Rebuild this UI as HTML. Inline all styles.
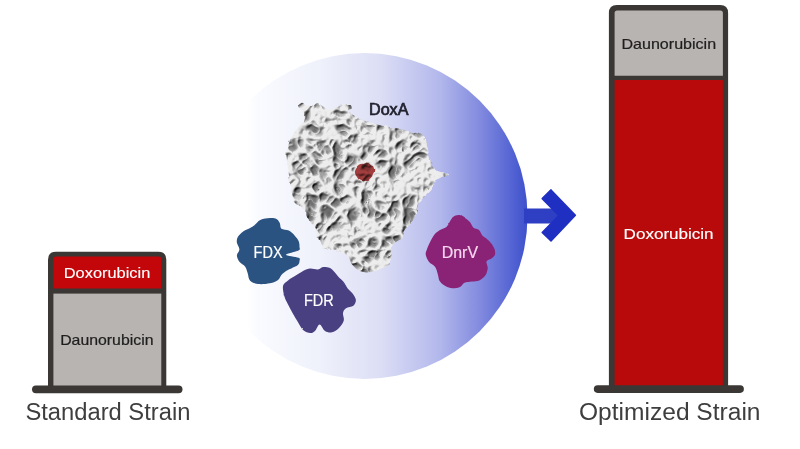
<!DOCTYPE html>
<html><head><meta charset="utf-8">
<style>
html,body{margin:0;padding:0;background:#fff;width:800px;height:449px;overflow:hidden}
svg{display:block}
text{font-family:"Liberation Sans",sans-serif}
</style></head>
<body>
<svg width="800" height="449" viewBox="0 0 800 449">
<defs>
  <linearGradient id="cg" x1="202" y1="0" x2="527" y2="0" gradientUnits="userSpaceOnUse">
    <stop offset="0" stop-color="#ffffff"/>
    <stop offset="0.14" stop-color="#ffffff"/>
    <stop offset="0.17" stop-color="#fafbff"/>
    <stop offset="0.36" stop-color="#eff1fb"/>
    <stop offset="0.55" stop-color="#dcdef5"/>
    <stop offset="0.73" stop-color="#b3b8ec"/>
    <stop offset="0.86" stop-color="#8089de"/>
    <stop offset="0.95" stop-color="#5565d4"/>
    <stop offset="1" stop-color="#3f51cc"/>
  </linearGradient>
  <filter id="prot" x="0" y="0" width="100%" height="100%" color-interpolation-filters="sRGB">
    <feTurbulence type="turbulence" baseFrequency="0.072" numOctaves="2" seed="11" result="t"/>
    <feColorMatrix in="t" type="matrix" values="0 0 0 0 0  0 0 0 0 0  0 0 0 0 0  1 0 0 0 0" result="ta"/>
    <feComponentTransfer in="ta" result="h">
      <feFuncA type="table" tableValues="1 0.96 0.78 0.48 0.18 0.04 0 0"/>
    </feComponentTransfer>
    <feGaussianBlur in="h" stdDeviation="0.7" result="hb"/>
    <feDiffuseLighting in="hb" surfaceScale="3" diffuseConstant="1.15" lighting-color="#fff" result="l">
      <feDistantLight azimuth="225" elevation="60"/>
    </feDiffuseLighting>
    <feComponentTransfer in="hb" result="ao">
      <feFuncR type="linear" slope="0" intercept="0"/>
      <feFuncG type="linear" slope="0" intercept="0"/>
      <feFuncB type="linear" slope="0" intercept="0"/>
      <feFuncA type="table" tableValues="0 0.6 1 1"/>
    </feComponentTransfer>
    <feFlood flood-color="#666666" result="gray"/>
    <feColorMatrix in="l" type="matrix" values="0.93 0 0 0 0  0 0.93 0 0 0  0 0 0.93 0 0  0 0 0 1 0" result="l2"/>
    <feComposite in="l2" in2="ao" operator="in" result="lit"/>
    <feMerge result="m"><feMergeNode in="gray"/><feMergeNode in="lit"/></feMerge>
    <feGaussianBlur in="m" stdDeviation="0.35" result="mb"/>
    <feComposite in="mb" in2="SourceGraphic" operator="in"/>
  </filter>
  <filter id="bump" x="-10%" y="-10%" width="120%" height="120%">
    <feTurbulence type="fractalNoise" baseFrequency="0.12" numOctaves="1" seed="2" result="n"/>
    <feDisplacementMap in="SourceGraphic" in2="n" scale="4" xChannelSelector="R" yChannelSelector="G"/>
  </filter>
  <filter id="lobe" x="-10%" y="-10%" width="120%" height="120%">
    <feTurbulence type="fractalNoise" baseFrequency="0.15" numOctaves="1" seed="9" result="n"/>
    <feDisplacementMap in="SourceGraphic" in2="n" scale="2" xChannelSelector="R" yChannelSelector="G" result="d"/>
    <feGaussianBlur in="d" stdDeviation="0.4"/>
  </filter>
</defs>

<!-- central circle -->
<circle cx="364.5" cy="216" r="163" fill="url(#cg)"/>

<!-- protein DoxA -->
<mask id="pm"><path d="M298.4,104.3 C298.8,103.8 301.1,101.4 302.4,101.7 C303.7,102.0 310.2,106.9 311.7,107.0 C313.2,107.1 315.9,103.1 317.0,103.0 C318.1,102.9 321.2,105.0 322.4,105.7 C323.6,106.4 327.1,109.7 329.0,109.7 C330.9,109.7 338.9,106.2 341.0,105.7 C343.1,105.2 349.3,104.7 350.4,105.0 C351.5,105.3 352.1,107.8 351.8,108.4 C351.5,109.0 347.5,110.3 347.8,111.0 C348.1,111.7 353.2,114.2 354.4,115.0 C355.6,115.8 358.4,118.3 359.8,119.0 C361.2,119.7 366.3,121.0 368.5,121.7 C370.7,122.4 378.4,124.8 382.0,125.6 C385.6,126.4 400.2,128.9 404.5,130.0 C408.8,131.1 422.2,134.2 424.6,136.7 C427.1,139.1 428.1,151.4 429.0,154.5 C429.9,157.6 431.5,166.0 433.5,168.0 C435.5,170.0 448.8,173.3 449.0,174.6 C449.2,175.9 437.5,179.5 435.7,181.0 C433.9,182.5 432.5,188.4 431.4,190.0 C430.3,191.6 426.1,195.4 424.8,196.7 C423.5,198.0 419.0,201.6 418.1,203.4 C417.2,205.2 416.6,212.5 415.9,214.5 C415.2,216.5 412.5,221.8 411.4,223.4 C410.3,225.0 405.8,228.5 404.7,230.1 C403.6,231.7 401.6,237.4 400.3,239.0 C399.0,240.6 392.3,243.9 391.4,245.7 C390.5,247.5 391.8,254.8 391.4,256.8 C390.9,258.8 388.2,264.4 386.9,265.7 C385.6,267.0 380.0,269.5 378.0,270.2 C376.0,270.9 368.9,272.4 366.9,272.4 C364.9,272.4 359.6,271.1 358.0,270.2 C356.4,269.3 352.4,265.1 351.3,263.5 C350.2,261.9 348.4,255.9 346.8,254.6 C345.2,253.3 338.1,250.8 335.7,250.1 C333.2,249.4 324.1,249.2 322.3,247.9 C320.5,246.6 318.8,239.0 317.9,236.8 C317.0,234.6 314.5,227.6 313.4,225.6 C312.3,223.6 307.8,218.5 306.7,216.7 C305.6,214.9 303.6,209.6 302.3,207.8 C301.0,206.0 294.5,200.7 293.4,198.9 C292.3,197.1 291.5,192.8 291.0,190.0 C290.5,187.2 288.9,174.2 288.4,170.7 C287.9,167.2 286.4,157.2 286.3,155.0 C286.2,152.8 287.3,150.0 287.7,148.4 C288.1,146.8 289.6,140.6 290.3,139.0 C291.0,137.4 293.4,133.7 294.3,132.4 C295.2,131.1 298.8,126.8 299.7,125.7 C300.6,124.6 303.2,123.0 303.7,121.7 C304.2,120.4 305.5,113.9 305.0,112.4 C304.5,110.9 299.1,107.8 298.4,107.0 C297.7,106.2 298.0,104.8 298.4,104.3 Z" fill="#fff" filter="url(#bump)"/></mask>
<rect x="270" y="90" width="190" height="200" fill="#fff" filter="url(#prot)" mask="url(#pm)"/>
<path d="M356,168 Q359,163 364,164 Q368,161 372,165 Q376,169 373,174 Q371,180 365,181 Q359,182 357,177 Q353,172 356,168 Z" fill="#a83030" opacity="0.92" style="mix-blend-mode:multiply" filter="url(#bump)"/>
<text x="369" y="114.9" font-size="15.8" fill="#22222e" stroke="#22222e" stroke-width="0.7" textLength="39.4" lengthAdjust="spacingAndGlyphs">DoxA</text>

<!-- FDX -->
<path d="M256.7,223.1 C257.8,222.2 258.6,220.6 260.8,219.8 C263.0,219.0 267.3,218.2 269.9,218.1 C272.5,217.9 274.9,218.1 276.5,218.9 C278.1,219.7 279.0,221.4 279.8,223.1 C280.6,224.8 279.9,227.6 281.4,228.8 C282.9,230.0 286.6,229.4 288.8,230.5 C291.0,231.6 293.0,233.6 294.6,235.4 C296.2,237.2 297.9,239.3 298.7,241.2 C299.5,243.1 299.5,245.4 299.5,247.0 C299.5,248.6 300.8,249.2 298.5,250.5 C296.2,251.8 286.0,253.6 286.0,254.8 C286.0,256.0 296.2,256.8 298.5,257.8 C300.8,258.8 299.6,259.8 299.5,261.0 C299.4,262.2 299.3,263.9 297.9,265.1 C296.5,266.3 293.2,267.4 291.3,268.4 C289.4,269.3 288.0,269.7 286.4,270.8 C284.8,271.9 282.8,273.5 281.4,275.0 C280.0,276.5 280.0,278.5 278.1,279.9 C276.2,281.3 273.2,282.5 269.9,283.2 C266.6,283.9 261.7,284.4 258.4,284.0 C255.1,283.6 251.9,282.5 250.1,280.7 C248.3,278.9 248.5,275.6 247.7,273.3 C246.9,271.0 246.6,268.6 245.2,266.7 C243.8,264.8 240.8,263.7 239.4,261.8 C238.0,259.9 236.9,257.3 236.9,255.2 C236.9,253.1 239.4,251.5 239.4,249.4 C239.4,247.3 237.2,244.9 236.9,242.8 C236.6,240.8 236.7,239.0 237.8,237.1 C238.9,235.2 241.4,232.8 243.5,231.3 C245.6,229.8 248.3,229.0 250.1,228.0 C251.9,227.0 253.1,226.3 254.2,225.5 C255.3,224.7 255.6,224.0 256.7,223.1 Z" fill="#2b5282" filter="url(#lobe)"/>
<text x="253.6" y="257.7" font-size="16" fill="#fff" stroke="#fff" stroke-width="0.2" textLength="29" lengthAdjust="spacingAndGlyphs">FDX</text>


<!-- FDR -->
<path d="M301.5,271.9 C304.0,270.7 306.9,269.0 309.7,268.6 C312.4,268.2 315.8,269.7 318.0,269.4 C320.2,269.1 321.0,267.3 322.9,267.0 C324.8,266.7 327.6,267.0 329.5,267.8 C331.4,268.6 333.0,270.4 334.5,271.9 C336.0,273.4 337.1,275.2 338.6,276.9 C340.1,278.5 342.0,279.9 343.5,281.8 C345.0,283.7 346.2,286.5 347.7,288.4 C349.2,290.3 351.2,291.5 352.6,293.4 C354.0,295.3 355.8,297.9 355.9,300.0 C356.0,302.1 355.0,304.3 353.4,305.7 C351.8,307.1 347.7,307.0 346.0,308.2 C344.3,309.4 343.4,310.9 343.0,313.0 C342.6,315.1 344.5,318.1 343.8,320.6 C343.1,323.1 341.0,326.1 339.0,328.0 C337.0,329.9 334.3,331.8 332.0,332.3 C329.7,332.8 327.1,332.3 325.0,331.0 C322.9,329.7 321.3,324.5 319.6,324.5 C317.9,324.5 316.6,329.6 315.0,331.0 C313.4,332.4 312.3,333.2 310.3,333.0 C308.3,332.8 305.2,332.1 303.0,330.0 C300.8,327.9 298.9,323.7 297.0,320.6 C295.1,317.5 293.1,313.8 291.6,311.2 C290.2,308.6 289.4,307.0 288.3,304.9 C287.2,302.8 285.8,300.5 285.0,298.3 C284.2,296.1 283.6,293.9 283.3,291.7 C283.0,289.5 282.5,287.0 283.3,285.1 C284.1,283.2 286.4,281.7 288.3,280.2 C290.2,278.7 292.7,277.4 294.9,276.0 C297.1,274.6 299.0,273.1 301.5,271.9 Z" fill="#4a4182" filter="url(#lobe)"/>
<text x="303.9" y="306.2" font-size="16" fill="#fff" stroke="#fff" stroke-width="0.2" textLength="29.7" lengthAdjust="spacingAndGlyphs">FDR</text>

<!-- DnrV -->
<path d="M453.4,216.7 C454.9,215.7 457.1,214.8 459.0,215.0 C460.9,215.2 462.8,216.6 464.6,217.8 C466.5,219.0 468.6,220.6 470.1,222.3 C471.6,224.0 472.0,226.5 473.5,227.8 C475.0,229.1 477.5,228.7 479.0,230.0 C480.5,231.3 481.1,234.1 482.4,235.6 C483.7,237.1 485.4,237.7 486.9,239.0 C488.4,240.3 490.0,241.7 491.3,243.4 C492.6,245.1 493.9,247.1 494.5,249.0 C495.1,250.9 495.5,253.1 495.0,254.7 C494.5,256.3 492.8,257.3 491.4,258.4 C490.0,259.5 487.1,259.8 486.5,261.4 C485.9,263.0 487.9,265.8 487.7,268.2 C487.5,270.6 486.7,273.5 485.3,275.5 C483.9,277.5 481.4,279.4 479.2,280.4 C476.9,281.4 474.2,281.2 471.8,281.6 C469.4,282.0 466.3,282.0 464.5,282.8 C462.7,283.6 462.4,285.6 460.8,286.5 C459.2,287.4 456.9,288.2 454.7,288.3 C452.4,288.4 449.8,288.2 447.3,287.1 C444.9,286.0 441.6,283.8 440.0,281.6 C438.4,279.5 438.6,276.6 437.8,274.2 C437.0,271.8 436.7,269.1 435.2,267.0 C433.7,264.9 430.5,263.7 428.9,261.7 C427.3,259.7 426.2,256.9 425.8,255.0 C425.4,253.1 426.0,252.2 426.7,250.1 C427.4,248.0 428.7,244.9 430.0,242.3 C431.3,239.7 432.8,236.6 434.5,234.5 C436.2,232.4 438.0,231.3 440.0,230.0 C442.0,228.7 445.0,228.2 446.7,226.7 C448.4,225.2 449.0,222.8 450.1,221.1 C451.2,219.4 451.9,217.7 453.4,216.7 Z" fill="#8a2074" filter="url(#lobe)"/>
<text x="441.8" y="257.8" font-size="16" fill="#f8d8f0" stroke="#f8d8f0" stroke-width="0.2" textLength="36.2" lengthAdjust="spacingAndGlyphs">DnrV</text>

<!-- arrow -->
<rect x="524" y="208.5" width="40" height="15" fill="#2e3fc4"/>
<path d="M551,189.9 L575.4,215.2 L551,241 L542.2,232.4 L558.8,215.4 L542.2,198.6 Z" fill="#1f2fc2" stroke="#1f2fc2" stroke-width="1.5" stroke-linejoin="round"/>

<!-- left bar -->
<path d="M48,389 L48,259.7 Q48,251.7 56,251.7 L158.3,251.7 Q166.3,251.7 166.3,259.7 L166.3,389 Z" fill="#3b3735"/>
<path d="M53.4,288.4 L53.4,259 Q53.4,256.4 56,256.4 L158.7,256.4 Q161.3,256.4 161.3,259 L161.3,288.4 Z" fill="#c2060a"/>
<rect x="53.4" y="293.6" width="107.9" height="95" fill="#b8b4b1"/>
<line x1="35.9" y1="389.3" x2="178.6" y2="389.3" stroke="#3b3735" stroke-width="7.8" stroke-linecap="round"/>
<text x="63.8" y="278.4" font-size="15" fill="#fff" stroke="#fff" stroke-width="0.12" textLength="86.5" lengthAdjust="spacingAndGlyphs">Doxorubicin</text>
<text x="60.2" y="344.7" font-size="14.5" fill="#1e1e1e" stroke="#1e1e1e" stroke-width="0.2" textLength="93.3" lengthAdjust="spacingAndGlyphs">Daunorubicin</text>
<text x="25.4" y="419.8" font-size="23.3" fill="#3e3e3e" textLength="165" lengthAdjust="spacingAndGlyphs">Standard Strain</text>

<!-- right bar -->
<path d="M608.9,389 L608.9,13.1 Q608.9,5.1 616.9,5.1 L720.1,5.1 Q728.1,5.1 728.1,13.1 L728.1,389 Z" fill="#3b3735"/>
<path d="M614.6,75.8 L614.6,13 Q614.6,10.4 617.2,10.4 L720.3,10.4 Q722.9,10.4 722.9,13 L722.9,75.8 Z" fill="#b8b4b1"/>
<rect x="614.6" y="80" width="108.3" height="308" fill="#b80a0a"/>
<line x1="597.6" y1="389.1" x2="740.1" y2="389.1" stroke="#3b3735" stroke-width="7.6" stroke-linecap="round"/>
<text x="621.5" y="48.8" font-size="14.5" fill="#1e1e1e" stroke="#1e1e1e" stroke-width="0.2" textLength="94.6" lengthAdjust="spacingAndGlyphs">Daunorubicin</text>
<text x="623.6" y="239.4" font-size="15.3" fill="#fff" stroke="#fff" stroke-width="0.15" textLength="90" lengthAdjust="spacingAndGlyphs">Doxorubicin</text>
<text x="579" y="420" font-size="23.3" fill="#3e3e3e" textLength="181.5" lengthAdjust="spacingAndGlyphs">Optimized Strain</text>
</svg>
</body></html>
